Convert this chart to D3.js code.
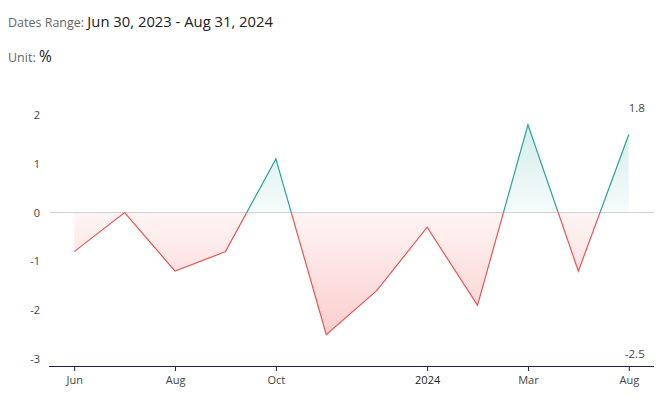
<!DOCTYPE html>
<html><head><meta charset="utf-8">
<script src="https://cdn.jsdelivr.net/npm/d3@7"></script>
<style>
body{margin:0;background:#fff;font-family:Rubik,"Open Sans",Roboto,sans-serif;}
svg text{font-family:"Open Sans",Roboto,sans-serif;}
</style></head><body>
<svg id="c" width="662" height="407"></svg>
<script>
const categories = ["2023-06","2023-07","2023-08","2023-09","2023-10","2023-11","2023-12","2024-01","2024-02","2024-03","2024-04","2024-08"];
const values = [-0.8, 0.0, -1.2, -0.8, 1.1, -2.5, -1.6, -0.3, -1.9, 1.8, -1.2, 1.6];
const tickLabels = {"2023-06":"Jun","2023-08":"Aug","2023-10":"Oct","2024-01":"2024","2024-03":"Mar","2024-08":"Aug"};
const yTicks = [-3,-2,-1,0,1,2];
const dateRange = "Jun 30, 2023 - Aug 31, 2024";
const unit = "%";

const svg = d3.select("#c");
const W=662,H=407;
const x = d3.scalePoint().domain(categories).range([49,654]).padding(0.5);
const y = d3.scaleLinear().domain([-3,2]).range([359,115]);
const data = categories.map((c,i)=>({c,v:values[i]}));

// header
const h = svg.append("text").attr("x",8).attr("y",27);
h.append("tspan").text("Dates Range: ").attr("fill","#666").attr("font-size",12.5);
h.append("tspan").text(dateRange).attr("fill","#222").attr("font-size",14.8);
const u = svg.append("text").attr("x",8).attr("y",62);
u.append("tspan").text("Unit: ").attr("fill","#666").attr("font-size",12.5);
u.append("tspan").text(unit).attr("fill","#222").attr("font-size",15.5);

const defs = svg.append("defs");
const g1 = defs.append("linearGradient").attr("id","gup").attr("x1",0).attr("x2",0).attr("gradientUnits","userSpaceOnUse")
  .attr("y1",y(2)).attr("y2",y(0));
g1.append("stop").attr("offset",0).attr("stop-color","#26a69a").attr("stop-opacity",0.22);
g1.append("stop").attr("offset",1).attr("stop-color","#26a69a").attr("stop-opacity",0.04);
const g2 = defs.append("linearGradient").attr("id","gdn").attr("x1",0).attr("x2",0).attr("gradientUnits","userSpaceOnUse")
  .attr("y1",y(0)).attr("y2",y(-2.5));
g2.append("stop").attr("offset",0).attr("stop-color","#ef5350").attr("stop-opacity",0.06);
g2.append("stop").attr("offset",1).attr("stop-color","#ef5350").attr("stop-opacity",0.28);
defs.append("clipPath").attr("id","cup").append("rect").attr("x",0).attr("y",0).attr("width",W).attr("height",y(0));
defs.append("clipPath").attr("id","cdn").append("rect").attr("x",0).attr("y",y(0)).attr("width",W).attr("height",H-y(0));

// y tick labels
svg.append("g").selectAll("text").data(yTicks).join("text")
  .attr("x",40).attr("y",d=>y(d)+4).attr("text-anchor","end")
  .attr("font-size",11).attr("fill","#444").text(d=>d);

// zero line
svg.append("line").attr("x1",50).attr("x2",654).attr("y1",y(0)).attr("y2",y(0)).attr("stroke","#d0d0d0").attr("stroke-width",1);

const area = d3.area().x(d=>x(d.c)).y0(y(0)).y1(d=>y(d.v));
const line = d3.line().x(d=>x(d.c)).y(d=>y(d.v));
svg.append("path").datum(data).attr("d",area).attr("fill","url(#gup)").attr("clip-path","url(#cup)");
svg.append("path").datum(data).attr("d",area).attr("fill","url(#gdn)").attr("clip-path","url(#cdn)");
svg.append("path").datum(data).attr("d",line).attr("fill","none").attr("stroke","#26a69a").attr("stroke-width",1.2).attr("clip-path","url(#cup)");
svg.append("path").datum(data).attr("d",line).attr("fill","none").attr("stroke","#ef5350").attr("stroke-width",1.2).attr("clip-path","url(#cdn)");

// x axis
const xa = svg.append("g").attr("transform","translate(0,366)")
  .call(d3.axisBottom(x).tickValues(Object.keys(tickLabels)).tickFormat(d=>tickLabels[d]).tickSize(5).tickSizeOuter(0));
xa.select(".domain").attr("stroke","#1f2240").attr("stroke-width",1.1).attr("d","M49,0.5H654");
xa.selectAll(".tick line").attr("stroke","#1f2240");
xa.selectAll(".tick text").attr("font-size",11).attr("fill","#444").attr("dy","0.95em")
  .attr("font-family","'Open Sans',Roboto,sans-serif");
xa.selectAll(".tick text").filter(d=>tickLabels[d]==="2024").attr("fill","#222").attr("font-weight",500);

// max / min labels
const last = categories[categories.length-1];
svg.append("text").attr("x",x(last)+8).attr("y",112).attr("text-anchor","middle").attr("font-size",11.5).attr("fill","#444").text(d3.max(values));
svg.append("text").attr("x",x(last)+6).attr("y",358).attr("text-anchor","middle").attr("font-size",11.5).attr("fill","#444").text(d3.min(values));
</script></body></html>
